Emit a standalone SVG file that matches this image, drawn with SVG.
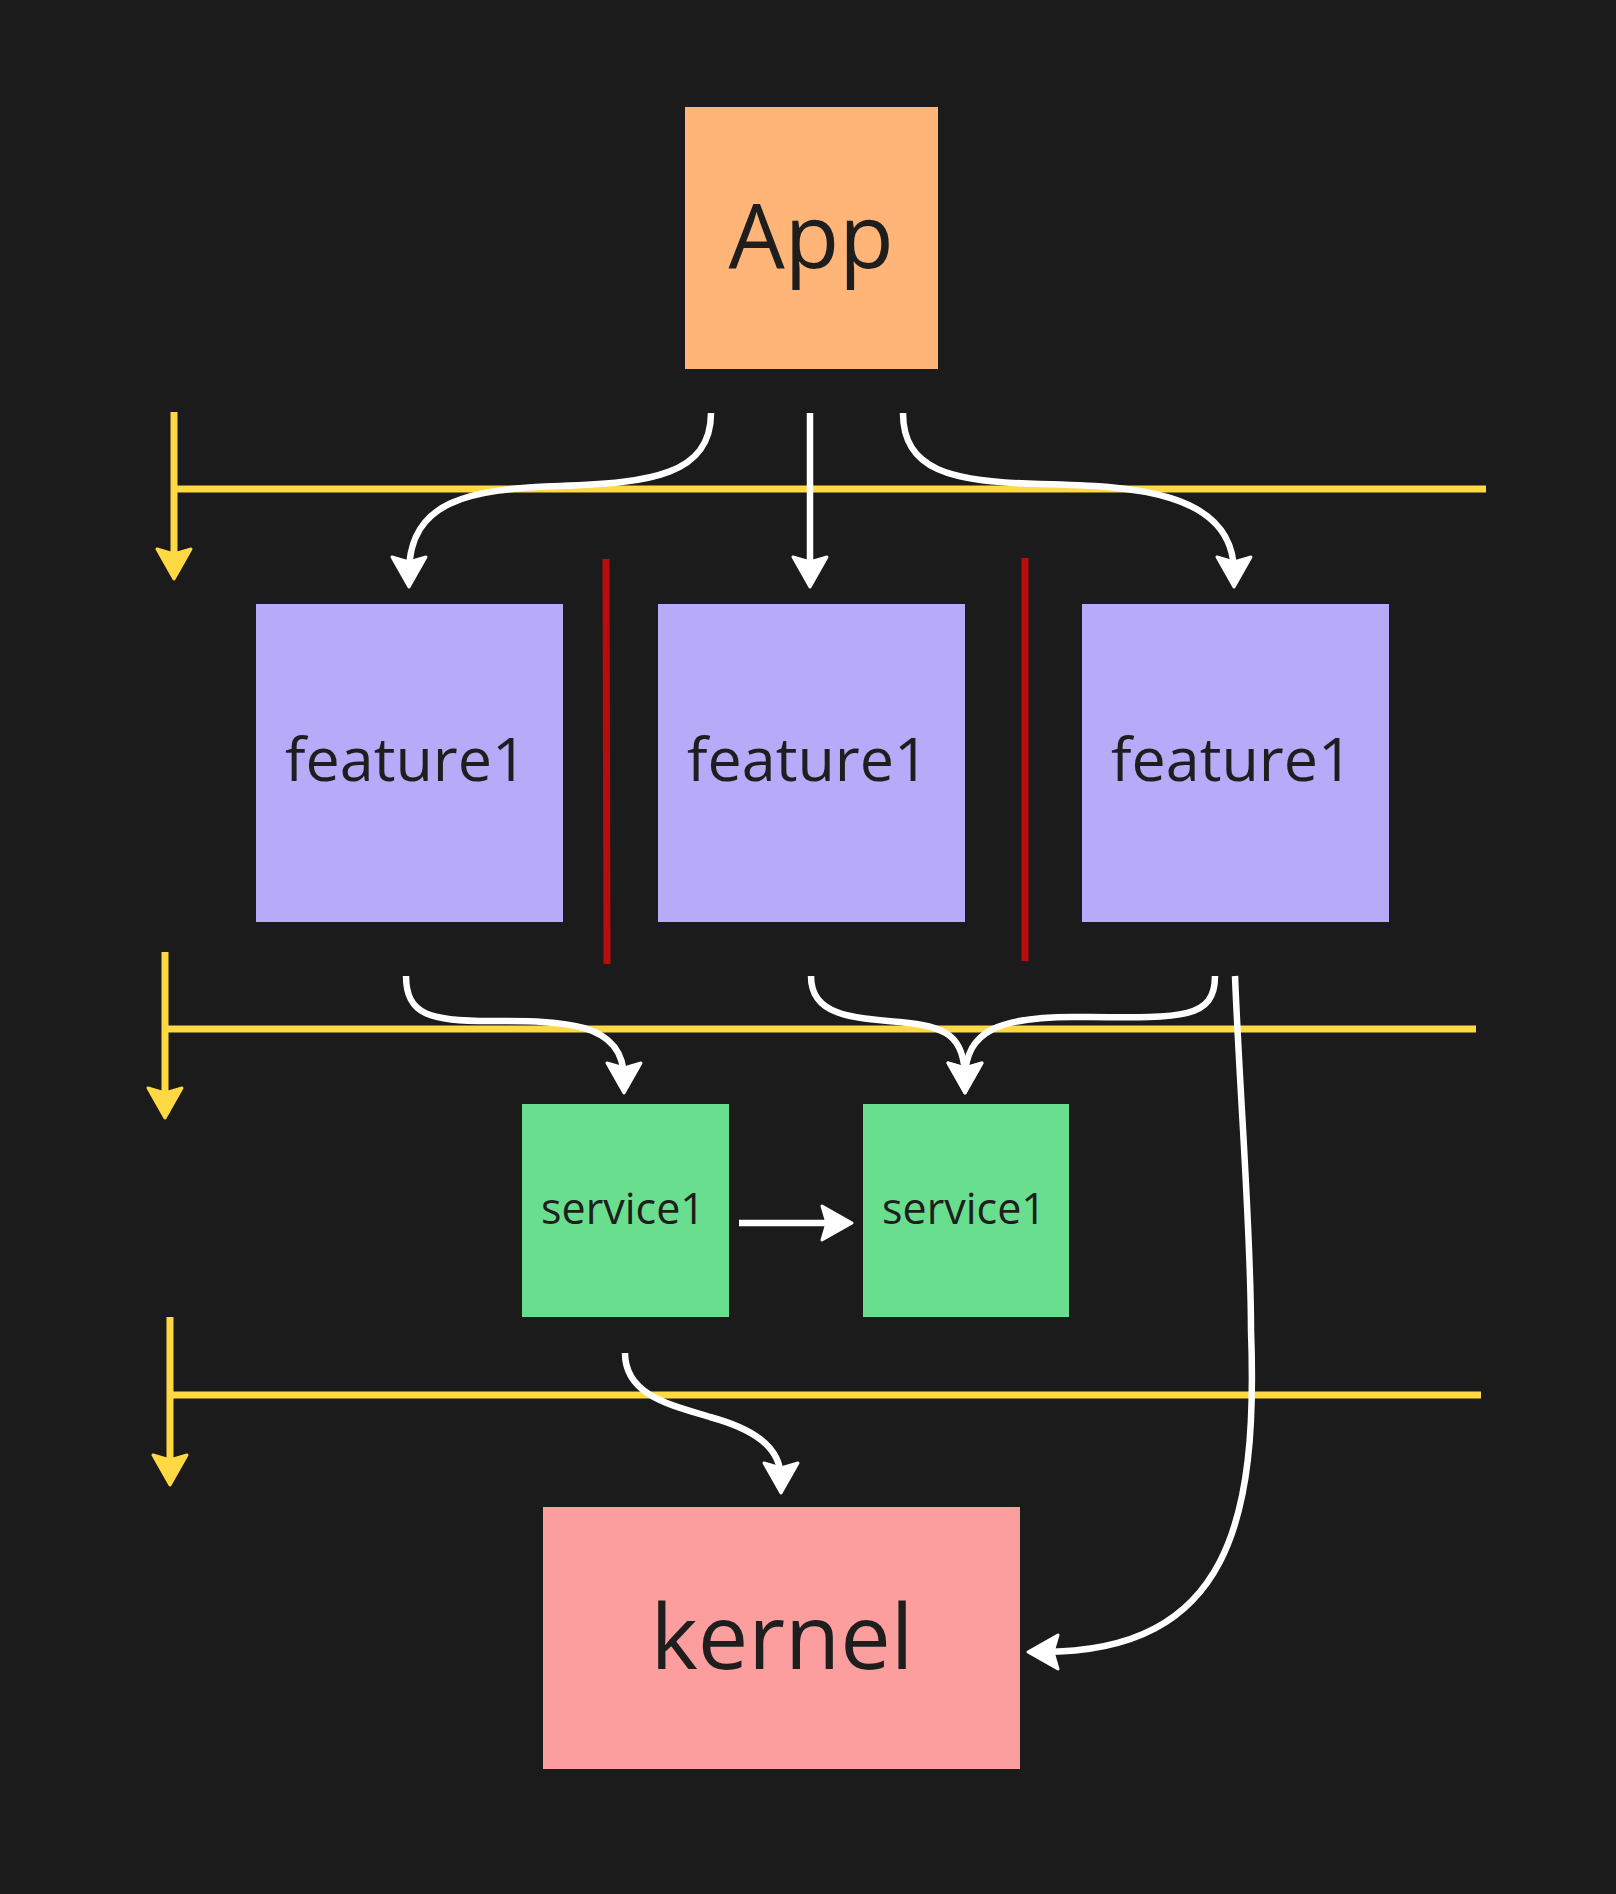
<svg xmlns="http://www.w3.org/2000/svg" width="1616" height="1894" viewBox="0 0 1616 1894">
<style>
.lbl{font-family:"Open Sans","Noto Sans","Liberation Sans",sans-serif;fill:#1e1e1e;text-anchor:middle}
.w{fill:none;stroke:#ffffff;stroke-width:6.5;stroke-linecap:butt}
.y{fill:none;stroke:#ffd944;stroke-width:7;stroke-linecap:butt}
.sep{stroke:#b90c0c;stroke-width:7}
</style>
<defs>
<marker id="aw" markerUnits="userSpaceOnUse" viewBox="-34 -22 38 44" markerWidth="38" markerHeight="44" refX="-14" refY="0" orient="auto">
<path d="M0,0 L-30,-17 L-25,0 L-30,17 Z" fill="#ffffff" stroke="#ffffff" stroke-width="3" stroke-linejoin="round"/>
</marker>
<marker id="ay" markerUnits="userSpaceOnUse" viewBox="-34 -22 38 44" markerWidth="38" markerHeight="44" refX="-14" refY="0" orient="auto">
<path d="M0,0 L-30,-17 L-25,0 L-30,17 Z" fill="#ffd944" stroke="#ffd944" stroke-width="3" stroke-linejoin="round"/>
</marker>
</defs>
<rect width="1616" height="1894" fill="#1b1b1b"/>

<g id="layers">
<path class="y" d="M174,489 L1486,489"/>
<path class="y" d="M174,412 L174,565" marker-end="url(#ay)"/>
<path class="y" d="M165,1029 L1476,1029"/>
<path class="y" d="M165,952 L165,1104" marker-end="url(#ay)"/>
<path class="y" d="M170,1395 L1481,1395"/>
<path class="y" d="M170,1317 L170,1471" marker-end="url(#ay)"/>
</g>

<g id="separators">
<line class="sep" x1="606" y1="559" x2="607" y2="964"/>
<line class="sep" x1="1025" y1="558" x2="1025" y2="961"/>
</g>

<g id="node-app">
<rect x="685" y="107" width="253" height="262" fill="#ffb578"/>
<text class="lbl" x="811" y="268" font-size="89">App</text>
</g>
<g id="node-feature-1">
<rect x="256" y="604" width="307" height="318" fill="#b7aaf8"/>
<text class="lbl" x="406" y="781" font-size="61">feature1</text>
</g>
<g id="node-feature-2">
<rect x="658" y="604" width="307" height="318" fill="#b7aaf8"/>
<text class="lbl" x="808" y="781" font-size="61">feature1</text>
</g>
<g id="node-feature-3">
<rect x="1082" y="604" width="307" height="318" fill="#b7aaf8"/>
<text class="lbl" x="1232" y="781" font-size="61">feature1</text>
</g>
<g id="node-service-1">
<rect x="522" y="1104" width="207" height="213" fill="#69de8e"/>
<text class="lbl" x="623" y="1224" font-size="43">service1</text>
</g>
<g id="node-service-2">
<rect x="863" y="1104" width="206" height="213" fill="#69de8e"/>
<text class="lbl" x="964" y="1224" font-size="43">service1</text>
</g>
<g id="node-kernel">
<rect x="543" y="1507" width="477" height="262" fill="#fc9e9e"/>
<text class="lbl" x="782" y="1669" font-size="90">kernel</text>
</g>

<g id="connectors">
<path class="w" d="M711,413 C711,475 650,483 560,486 C470,489 409,500 409,573" marker-end="url(#aw)"/>
<path class="w" d="M810,413 L810,573" marker-end="url(#aw)"/>
<path class="w" d="M903,413 C903,470 950,482 1040,484 C1130,486 1234,490 1234,573" marker-end="url(#aw)"/>
<path class="w" d="M406,976 C406,1015 430,1021 490,1021 C560,1021 624,1020 624,1079" marker-end="url(#aw)"/>
<path class="w" d="M811,976 C811,1015 850,1018 900,1022 C945,1026 965,1035 965,1079" marker-end="url(#aw)"/>
<path class="w" d="M1215,976 C1215,1020 1180,1018 1080,1017 C1000,1016 965,1030 965,1079" marker-end="url(#aw)"/>
<path class="w" d="M1235,976 C1240,1100 1251,1230 1251,1330 C1258,1520 1230,1652 1042,1652" marker-end="url(#aw)"/>
<path class="w" d="M739,1223 L838,1223" marker-end="url(#aw)"/>
<path class="w" d="M625,1353 C625,1395 670,1405 710,1417 C750,1428 781,1445 781,1479" marker-end="url(#aw)"/>
</g>
</svg>
